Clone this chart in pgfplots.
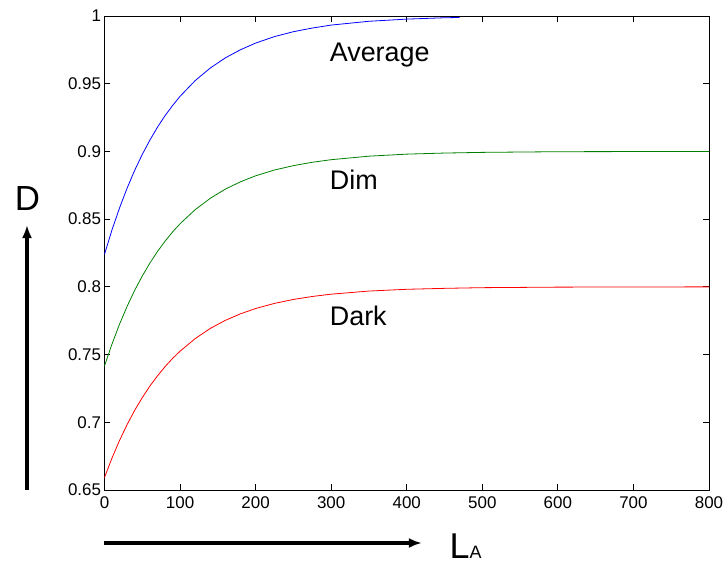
\documentclass[border=0pt]{standalone}
\usepackage{fontspec}
\setmainfont{Liberation Sans}
\usepackage{pgfplots}
\pgfplotsset{compat=1.18}
\usetikzlibrary{arrows.meta}
\definecolor{mgreen}{rgb}{0,0.5,0}
\begin{document}
\begin{tikzpicture}
\useasboundingbox (-104.5bp,-76bp) rectangle (620.5bp,490bp);
\begin{axis}[
  at={(0,0)}, anchor=south west,
  scale only axis, width=604.5bp, height=474bp,
  xmin=0, xmax=800, ymin=0.65, ymax=1,
  xtick={0,100,...,800},
  ytick={0.65,0.7,0.75,0.8,0.85,0.9,0.95,1},
  yticklabels={0.65,0.7,0.75,0.8,0.85,0.9,0.95,1},
  tick align=inside, major tick length=6bp,
  axis line style={line width=0.9bp},
  every tick/.style={black, line width=0.9bp},
  /pgf/number format/assume math mode=true,
  tick label style={font=\fontsize{17}{17}\selectfont},
  xticklabel style={yshift=-3bp},
  clip=false,
]
\addplot[blue, line width=0.8bp] coordinates {
(0,0.8240) (10,0.8422) (20,0.8584) (30,0.8730) (40,0.8861) (50,0.8978)
(60,0.9083) (70,0.9178) (80,0.9263) (90,0.9338) (100,0.9407) (120,0.9523)
(140,0.9616) (160,0.9691) (180,0.9751) (200,0.9800) (225,0.9848) (250,0.9884)
(275,0.9911) (300,0.9933) (350,0.9961) (400,0.9977) (450,0.9987) (470,0.9989)
};
\addplot[mgreen, line width=0.8bp] coordinates {
(0,0.7416) (10,0.7579) (20,0.7726) (30,0.7857) (40,0.7975) (50,0.8080)
(60,0.8175) (70,0.8260) (80,0.8336) (90,0.8405) (100,0.8466) (120,0.8570)
(140,0.8654) (160,0.8722) (180,0.8776) (200,0.8820) (225,0.8863) (250,0.8895)
(275,0.8920) (300,0.8939) (350,0.8965) (400,0.8980) (450,0.8988) (500,0.8993)
(600,0.8998) (700,0.8999) (800,0.9000)
};
\addplot[red, line width=0.8bp] coordinates {
(0,0.6592) (10,0.6737) (20,0.6867) (30,0.6984) (40,0.7089) (50,0.7182)
(60,0.7267) (70,0.7342) (80,0.7410) (90,0.7471) (100,0.7525) (120,0.7618)
(140,0.7693) (160,0.7753) (180,0.7801) (200,0.7840) (225,0.7878) (250,0.7907)
(275,0.7929) (300,0.7946) (350,0.7969) (400,0.7982) (450,0.7989) (500,0.7994)
(600,0.7998) (700,0.7999) (800,0.8000)
};
\node[anchor=base west, inner sep=0, font=\fontsize{27}{27}\selectfont] at (axis cs:298,0.9663) {Average};
\node[anchor=base west, inner sep=0, font=\fontsize{27}{27}\selectfont] at (axis cs:298,0.8721) {Dim};
\node[anchor=base west, inner sep=0, font=\fontsize{27}{27}\selectfont] at (axis cs:298,0.7712) {Dark};
\draw[line width=3.5bp, -{Latex[length=13bp,width=10bp]}] ([xshift=-77.5bp]rel axis cs:0,0) -- ([xshift=-77.5bp]rel axis cs:0,0.559);
\draw[line width=3.5bp, -{Latex[length=13bp,width=10bp]}] ([yshift=-53bp]rel axis cs:0,0) -- ([yshift=-53bp]rel axis cs:0.525,0);
\node[anchor=base, inner sep=0, font=\fontsize{35}{35}\selectfont] at ([xshift=-77bp]rel axis cs:0,0.5907) {D};
\node[anchor=base west, inner sep=0] at ([xshift=345bp,yshift=-68.5bp]rel axis cs:0,0) {\fontsize{36}{36}\selectfont L\fontsize{18}{18}\selectfont A};
\end{axis}
\end{tikzpicture}
\end{document}
